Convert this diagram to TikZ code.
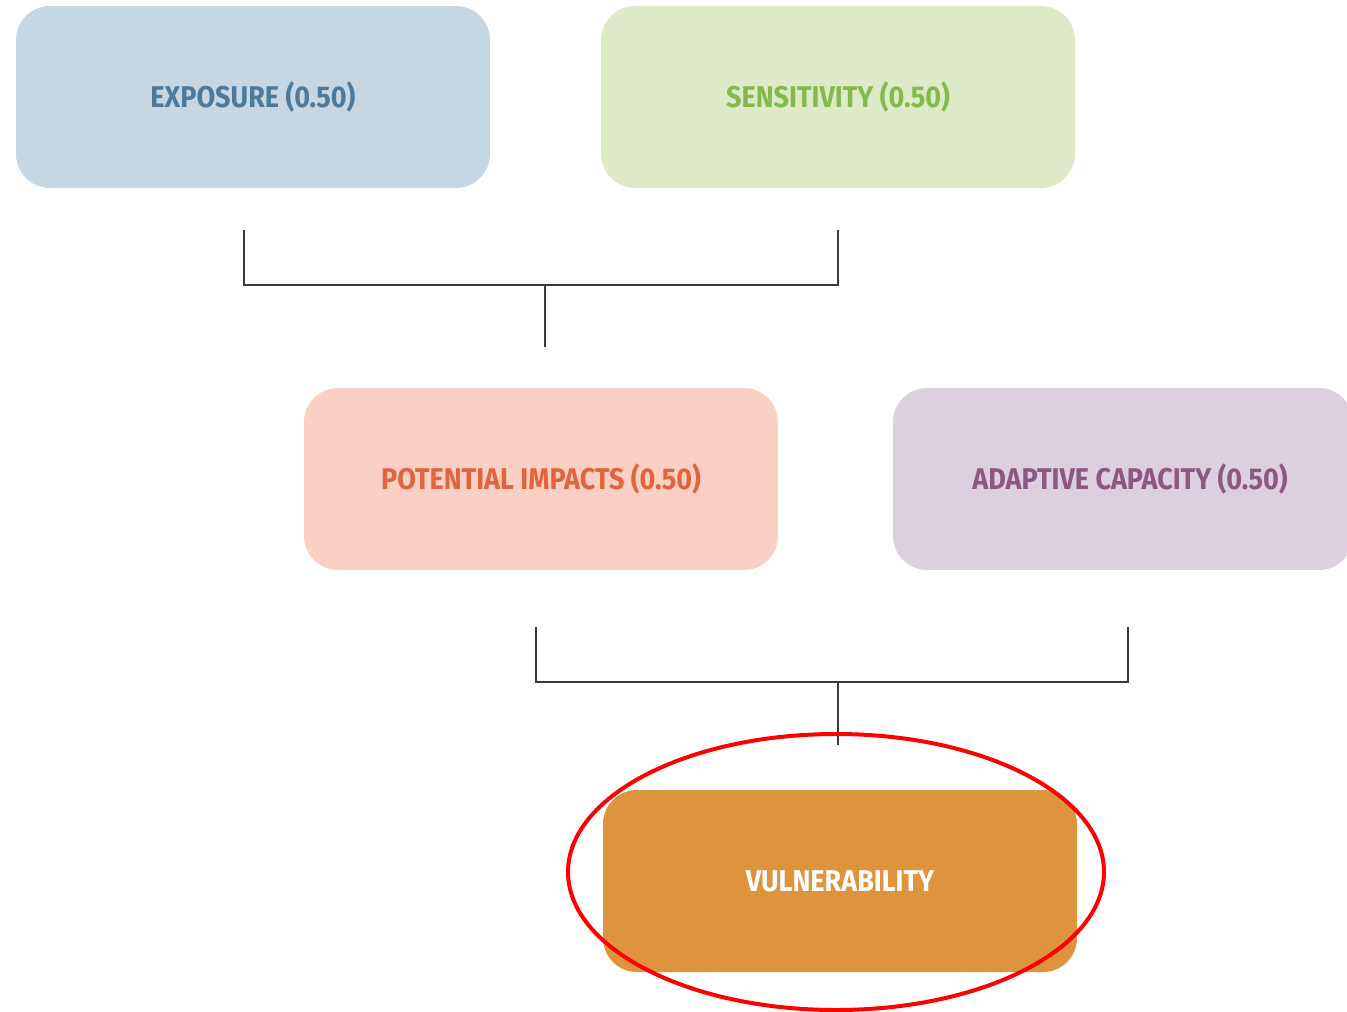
\documentclass[tikz,border=0pt]{standalone}
\usepackage{fontspec}
\newfontfamily\boxfont{Fira Sans}[FakeStretch=0.9]
\definecolor{expofill}{HTML}{C6D6E2}
\definecolor{expotext}{HTML}{4B7A9C}
\definecolor{sensfill}{HTML}{DEEAC7}
\definecolor{senstext}{HTML}{86B850}
\definecolor{potfill}{HTML}{F9D0C3}
\definecolor{pottext}{HTML}{E0653F}
\definecolor{adapfill}{HTML}{DDD0DE}
\definecolor{adaptext}{HTML}{8A5880}
\definecolor{vulnfill}{HTML}{DD943D}
\definecolor{linegray}{HTML}{3A3A3A}
\tikzset{
  box/.style={rounded corners=34pt, minimum width=474pt, minimum height=182pt,
    inner sep=0pt, font=\boxfont\bfseries\fontsize{30}{30}\selectfont},
  joint/.style={draw=linegray, line width=1.8pt}
}
\begin{document}
\begin{tikzpicture}[x=1pt,y=-1pt]
\useasboundingbox (0,0) rectangle (1347,1012);
\clip (0,0) rectangle (1347,1012);
\node[box, fill=expofill, text=expotext] (expo) at (253,97) {EXPOSURE (0.50)};
\node[box, fill=sensfill, text=senstext] (sens) at (838,97) {SENSITIVITY (0.50)};
\node[box, fill=potfill, text=pottext] (pot) at (541,479) {POTENTIAL IMPACTS (0.50)};
\node[box, fill=adapfill, text=adaptext, minimum width=460pt] (adap) at (1123,479) {\hspace*{14pt}ADAPTIVE CAPACITY (0.50)};
\node[box, fill=vulnfill, text=white] (vuln) at (840,881) {VULNERABILITY};
\coordinate (j1) at (545,285);
\coordinate (j2) at (838,682);
\draw[joint] ([xshift=-9pt,yshift=-42pt]expo.south) |- (j1) -| ([yshift=-42pt]sens.south);
\draw[joint] (j1) -- ([yshift=41pt]pot.north -| j1);
\draw[joint] ([xshift=-5pt,yshift=-57pt]pot.south) |- (j2) -| ([xshift=5pt,yshift=-57pt]adap.south);
\draw[joint] (j2) -- ([yshift=45pt]vuln.north -| j2);
\draw[red, line width=4pt] (836,872) ellipse [x radius=268, y radius=138];
\end{tikzpicture}
\end{document}
